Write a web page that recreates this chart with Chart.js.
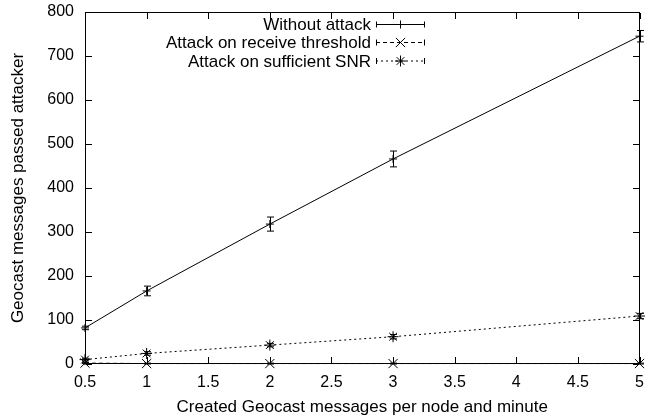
<!DOCTYPE html>
<html><head><meta charset="utf-8">
<script src="https://cdn.jsdelivr.net/npm/chart.js@4/dist/chart.umd.min.js"></script>
<style>html,body{margin:0;padding:0;background:#fff;}#wrap{width:647px;height:420px;position:relative;}</style>
</head><body><div id="wrap"><canvas id="c"></canvas></div>
<script>
const xValues = [0.5, 1, 2, 3, 5];
const withoutAttack = [82, 166, 318, 466, 745];
const withoutAttackErr = [4, 11, 16, 18, 13];
const thresholdAttack = [2, 1, 1, 1, 1];
const thresholdAttackErr = [1, 1, 1, 1, 1];
const snrAttack = [10, 24, 43, 62, 109];
const snrAttackErr = [3, 4, 4, 5, 6];
const xTicks = [0.5, 1, 1.5, 2, 2.5, 3, 3.5, 4, 4.5, 5];
const xTickLabels = ['0.5', '1', '1.5', '2', '2.5', '3', '3.5', '4', '4.5', '5'];
const yTicks = [0, 100, 200, 300, 400, 500, 600, 700, 800];
const yTickLabels = ['0', '100', '200', '300', '400', '500', '600', '700', '800'];
const seriesLabels = ['Without attack', 'Attack on receive threshold', 'Attack on sufficient SNR'];
const xTitle = 'Created Geocast messages per node and minute';
const yTitle = 'Geocast messages passed attacker';

const FONT = '"Liberation Sans", Arial, Helvetica, sans-serif';
const toPts = arr => xValues.map((x, i) => ({x: x, y: arr[i]}));

const datasets = [
  {label: seriesLabels[0], data: toPts(withoutAttack), err: withoutAttackErr, borderDash: [], pointStyle: 'cross', pointRadius: 4},
  {label: seriesLabels[1], data: toPts(thresholdAttack), err: thresholdAttackErr, borderDash: [4, 3], pointStyle: 'crossRot', pointRadius: 6.5},
  {label: seriesLabels[2], data: toPts(snrAttack), err: snrAttackErr, borderDash: [2, 3], pointStyle: 'star', pointRadius: 5.5}
].map(d => Object.assign({
  borderColor: '#000', backgroundColor: '#000', borderWidth: 1,
  pointBorderColor: '#000', pointBorderWidth: 1, pointHoverRadius: 0,
  tension: 0, clip: false, fill: false
}, d));

const framePlugin = {
  id: 'frame',
  afterDatasetsDraw(chart) {
    const ctx = chart.ctx;
    const xs = chart.scales.x, ys = chart.scales.y;
    const L = Math.round(xs.getPixelForValue(xs.min)), R = Math.round(xs.getPixelForValue(xs.max)) - 1;
    const T = Math.round(ys.getPixelForValue(ys.max)), B = Math.round(ys.getPixelForValue(ys.min)) - 1;
    ctx.save();
    ctx.strokeStyle = '#000'; ctx.fillStyle = '#000'; ctx.lineWidth = 1; ctx.setLineDash([]);
    // error bars
    chart.data.datasets.forEach(ds => {
      ds.data.forEach((p, i) => {
        const e = ds.err[i];
        const px = Math.round(xs.getPixelForValue(p.x)) + 0.5;
        const y1 = ys.getPixelForValue(p.y - e), y2 = ys.getPixelForValue(p.y + e);
        ctx.beginPath();
        ctx.moveTo(px, y1); ctx.lineTo(px, y2);
        ctx.moveTo(px - 3.5, y1); ctx.lineTo(px + 3.5, y1);
        ctx.moveTo(px - 3.5, y2); ctx.lineTo(px + 3.5, y2);
        ctx.stroke();
      });
    });
    // frame (filled 1px bars)
    ctx.fillRect(L, T, R - L + 1, 1);
    ctx.fillRect(L, B, R - L + 1, 1);
    ctx.fillRect(L, T, 1, B - T + 1);
    ctx.fillRect(R, T, 1, B - T + 1);
    // ticks (inward, mirrored)
    xTicks.forEach(v => {
      const px = Math.round(xs.getPixelForValue(v));
      ctx.fillRect(px, B - 6, 1, 6);
      ctx.fillRect(px, T + 1, 1, 6);
    });
    yTicks.forEach(v => {
      const py = Math.round(ys.getPixelForValue(v));
      ctx.fillRect(L + 1, py, 6, 1);
      ctx.fillRect(R - 6, py, 6, 1);
    });
    // legend
    ctx.font = '17px ' + FONT;
    ctx.textAlign = 'right';
    ctx.textBaseline = 'middle';
    const rows = [24.5, 42.5, 61];
    chart.data.datasets.forEach((ds, i) => {
      const y = rows[i];
      ctx.fillText(ds.label, 371, y + 1);
      ctx.setLineDash(ds.borderDash);
      ctx.beginPath(); ctx.moveTo(376, y); ctx.lineTo(425, y); ctx.stroke();
      ctx.setLineDash([]);
      ctx.beginPath();
      ctx.moveTo(376.5, y - 3); ctx.lineTo(376.5, y + 3);
      ctx.moveTo(424.5, y - 3); ctx.lineTo(424.5, y + 3);
      ctx.stroke();
      Chart.helpers.drawPoint(ctx, {pointStyle: ds.pointStyle, radius: ds.pointRadius, borderWidth: 1, rotation: 0}, 400.5, y);
    });
    ctx.restore();
  }
};

new Chart(document.getElementById('c'), {
  type: 'line',
  data: {datasets: datasets},
  options: {
    responsive: true, maintainAspectRatio: false, animation: false,
    events: [],
    layout: {padding: {top: 12, right: 6, left: 0, bottom: 0}},
    plugins: {legend: {display: false}, tooltip: {enabled: false}},
    scales: {
      x: {
        type: 'linear', min: 0.5, max: 5,
        afterBuildTicks: s => { s.ticks = xTicks.map(v => ({value: v})); },
        afterFit: s => { s.height = 56; },
        grid: {display: false, drawTicks: true, tickLength: 9}, border: {display: false},
        ticks: {autoSkip: false, maxRotation: 0, padding: 0, color: '#000',
          font: {family: FONT, size: 16}, callback: (v, i) => xTickLabels[i]},
        title: {display: true, text: xTitle, color: '#000', font: {family: FONT, size: 17}, padding: {top: 2, bottom: 2}}
      },
      y: {
        type: 'linear', min: 0, max: 800,
        afterBuildTicks: s => { s.ticks = yTicks.map(v => ({value: v})); },
        afterFit: s => { s.width = 85; },
        grid: {display: false, drawTicks: true, tickLength: 11}, border: {display: false},
        ticks: {autoSkip: false, padding: 0, color: '#000',
          font: {family: FONT, size: 16}, callback: (v, i) => yTickLabels[i]},
        title: {display: true, text: yTitle, color: '#000', font: {family: FONT, size: 17}, padding: {top: 8, bottom: 2}}
      }
    }
  },
  plugins: [framePlugin]
});
</script></body></html>
